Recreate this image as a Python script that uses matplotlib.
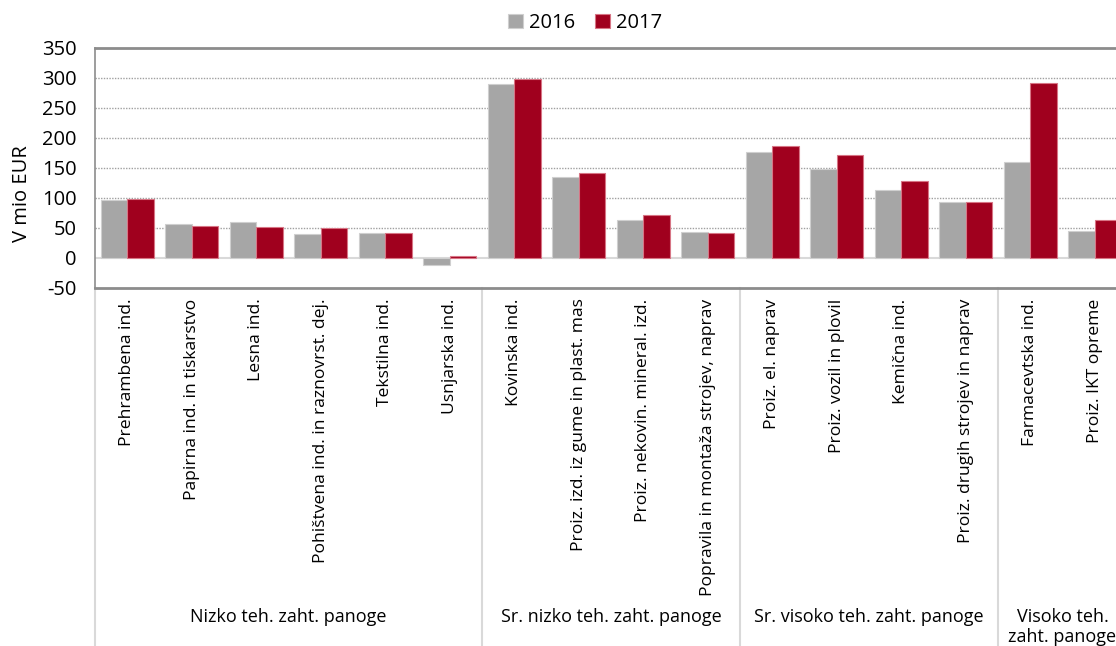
import matplotlib
matplotlib.use("Agg")
import matplotlib.pyplot as plt
import matplotlib.transforms as mtransforms
import numpy as np

plt.rcParams['font.family'] = ['Open Sans', 'DejaVu Sans']
plt.rcParams['axes.unicode_minus'] = False

categories = [
    "Prehrambena ind.", "Papirna ind. in tiskarstvo", "Lesna ind.",
    "Pohištvena ind. in raznovrst. dej.", "Tekstilna ind.", "Usnjarska ind.",
    "Kovinska ind.", "Proiz. izd. iz gume in plast. mas",
    "Proiz. nekovin. mineral. izd.", "Popravila in montaža strojev, naprav",
    "Proiz. el. naprav", "Proiz. vozil in plovil", "Kemična ind.",
    "Proiz. drugih strojev in naprav", "Farmacevtska ind.", "Proiz. IKT opreme",
]
values_2016 = [96, 56, 59, 39, 41, -13, 289, 134, 63, 42, 176, 147, 113, 93, 159, 45]
values_2017 = [98, 53, 51, 50, 41, 3, 297, 141, 71, 41, 186, 171, 127, 92, 291, 63]
groups = ["Nizko teh. zaht. panoge", "Sr. nizko teh. zaht. panoge",
          "Sr. visoko teh. zaht. panoge", "Visoko teh.\nzaht. panoge"]
group_sizes = [6, 4, 4, 2]
series_labels = ["2016", "2017"]
yticks = [-50, 0, 50, 100, 150, 200, 250, 300, 350]

GRAY = "#A6A6A6"
RED = "#A0001E"

W, H = 1116, 646
fig = plt.figure(figsize=(W / 100, H / 100), dpi=100)
ax_left, ax_right = 95, 1116
ax_top, ax_bot = 47.5, 287.5
ax = fig.add_axes([ax_left / W, 1 - ax_bot / H, (ax_right - ax_left) / W, (ax_bot - ax_top) / H])

x = np.arange(len(categories))
bw = 0.41
ax.bar(x - bw / 2, values_2016, bw, color=GRAY, edgecolor="#CFCFCF", linewidth=0.8,
       label=series_labels[0], zorder=3)
ax.bar(x + bw / 2, values_2017, bw, color=RED, edgecolor="#D77585", linewidth=0.8,
       label=series_labels[1], zorder=3)

cat_px = 64.5
span = (ax_right - ax_left) / cat_px
ax.set_xlim(-0.5, -0.5 + span)
ax.set_ylim(-50, 350)
ax.set_yticks(yticks)
ax.tick_params(axis='y', length=0, pad=13, labelsize=14.5, colors="#000000")
ax.set_xticks(x)
ax.set_xticklabels(categories, rotation=90, fontsize=12.6)
ax.tick_params(axis='x', length=0, pad=8)

for v in [50, 100, 150, 200, 250, 300]:
    ax.axhline(v, color="#A0A0A0", lw=1.0, ls=(0, (1, 1)), zorder=1)
ax.axhline(0, color="#D9D9D9", lw=1.5, zorder=2)

ax.spines["right"].set_visible(False)
ax.spines["top"].set_color("#8C8C8C")
ax.spines["top"].set_linewidth(2)
ax.spines["bottom"].set_color("#8C8C8C")
ax.spines["bottom"].set_linewidth(2)
ax.spines["left"].set_color("#8C8C8C")
ax.spines["left"].set_linewidth(1.2)

trans = mtransforms.blended_transform_factory(ax.transData, fig.transFigure)
bounds = np.concatenate([[0], np.cumsum(group_sizes)]) - 0.5
ybot_fig = 1 - ax_bot / H
for b in bounds[:-1]:
    ax.plot([b, b], [0, ybot_fig], transform=trans, color="#D9D9D9", lw=1.5,
            clip_on=False, zorder=0)
for i, g in enumerate(groups):
    cx = (bounds[i] + bounds[i + 1]) / 2
    yy = 1 - 617 / H if "\n" not in g else 1 - 627 / H
    ax.text(cx, yy, g, transform=trans, ha="center", va="center", fontsize=13,
            linespacing=1.2, clip_on=False)

fig.text(22 / W, 1 - 194 / H, "V mio EUR", rotation=90, ha="center", va="center", fontsize=14.5)

fig.legend(loc="center", bbox_to_anchor=(585 / W, 1 - 23 / H), ncol=2, frameon=False,
           handlelength=0.75, handleheight=0.75, handletextpad=0.3, columnspacing=1.0,
           fontsize=14.5)

fig.savefig("out.png", dpi=100)
